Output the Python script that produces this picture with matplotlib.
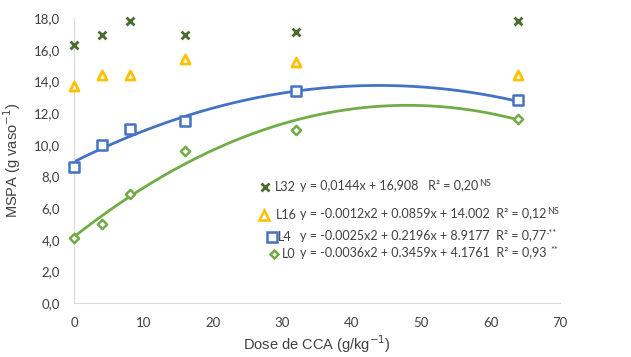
import numpy as np
import matplotlib
matplotlib.use("Agg")
import matplotlib.pyplot as plt

# doses of CCA (g/kg)
dose = [0, 4, 8, 16, 32, 64]

# MSPA (g vaso-1) per treatment
L32 = [16.3, 16.9, 17.8, 16.9, 17.1, 17.8]
L16 = [13.7, 14.4, 14.4, 15.4, 15.2, 14.4]
L4 = [8.6, 10.0, 11.0, 11.5, 13.4, 12.8]
L0 = [4.1, 5.0, 6.9, 9.6, 10.9, 11.6]

# trendline coefficients as printed on the chart (a x2 + b x + c)
coefL4 = [-0.0025, 0.2196, 8.9177]
coefL0 = [-0.0036, 0.3459, 4.1761]

eqL32 = "y = 0,0144x + 16,908   R² = 0,20"
eqL16 = "y = -0.0012x2 + 0.0859x + 14.002  R² = 0,12"
eqL4 = "y = -0.0025x2 + 0.2196x + 8.9177  R² = 0,77"
eqL0 = "y = -0.0036x2 + 0.3459x + 4.1761  R² = 0,93 "
sup = ["NS", "NS", "·**", "**"]

cGreenDark = "#4b6b2f"
cGold = "#ffc000"
cBlue = "#4472c4"
cGreen = "#70ad47"

plt.rcParams['font.family'] = ['Lato', 'DejaVu Sans']

fig = plt.figure(figsize=(6.31, 3.57), dpi=100)
ax = fig.add_axes([74/631, 1-303/357, (560-74)/631, (303-18)/357])

xs = np.linspace(0, 64, 200)
ax.plot(xs, np.polyval(coefL4, xs), color=cBlue, lw=2)
ax.plot(xs, np.polyval(coefL0, xs), color=cGreen, lw=2)

ax.scatter(dose, L32, marker='x', s=32, color=cGreenDark, linewidths=2, zorder=3, clip_on=False)
ax.scatter(dose, L16, marker='^', s=42, facecolors='white', edgecolors=cGold, linewidths=2, zorder=3, clip_on=False)
ax.scatter(dose, L4, marker='s', s=55, facecolors='white', edgecolors=cBlue, linewidths=1.8, zorder=3, clip_on=False)
ax.scatter(dose, L0, marker='D', s=22, facecolors='white', edgecolors=cGreen, linewidths=1.8, zorder=3, clip_on=False)

ax.set_xlim(0, 70)
ax.set_ylim(0, 18)
ax.set_xticks(range(0, 71, 10))
ax.set_yticks(np.arange(0, 18.1, 2))
ax.set_yticklabels([("%.1f" % v).replace(".", ",") for v in np.arange(0, 18.1, 2)])
ax.tick_params(length=0, labelsize=9.5, colors="#404040")
ax.tick_params(axis='y', pad=10)
ax.tick_params(axis='x', pad=10)
for s in ['top', 'right']:
    ax.spines[s].set_visible(False)
for s in ['left', 'bottom']:
    ax.spines[s].set_color("#d9d9d9")

ax.set_xlabel("Dose de CCA (g/kg$^{-1}$)", fontsize=10.5, family='Liberation Sans', color="#404040", labelpad=3)
ax.set_ylabel("MSPA (g vaso$^{-1}$)", fontsize=10.5, family='Liberation Sans', color="#404040", labelpad=8)

# legend block drawn as text in pixel coordinates
def px(x, y):
    return (x/631, 1-y/357)

rows = [
    ('x', cGreenDark, 265, 187, "L32", 275, eqL32, 300),
    ('^', cGold, 264, 215, "L16", 276, eqL16, 300),
    ('s', cBlue, 272, 237, "L4", 278, eqL4, 300),
    ('D', cGreen, 274, 254, "L0", 282, eqL0, 300),
]
for i, (mk, col, mx, my, name, nx, eq, ex) in enumerate(rows):
    if mk == 'x':
        fig.lines.append(plt.Line2D([mx/631], [1-my/357], marker='x', ms=5.5, mew=2, color=col, transform=fig.transFigure))
    else:
        ms = {'^': 6.5, 's': 7, 'D': 4.5}[mk]
        fig.lines.append(plt.Line2D([mx/631], [1-my/357], marker=mk, ms=ms, mew=1.8, mfc='white', mec=col, transform=fig.transFigure))
    fig.text(*px(nx, my), name, fontsize=9, color="#404040", va='center', ha='left')
    t = fig.text(*px(ex, my - 1), eq, fontsize=9, color="#404040", va='center', ha='left')
    ax.annotate(sup[i], xy=(1, 1), xycoords=t, xytext=(0.5, 1), textcoords='offset points',
                fontsize=6.5, color="#404040", va='top', ha='left', annotation_clip=False)

fig.savefig("out.png", dpi=100)
